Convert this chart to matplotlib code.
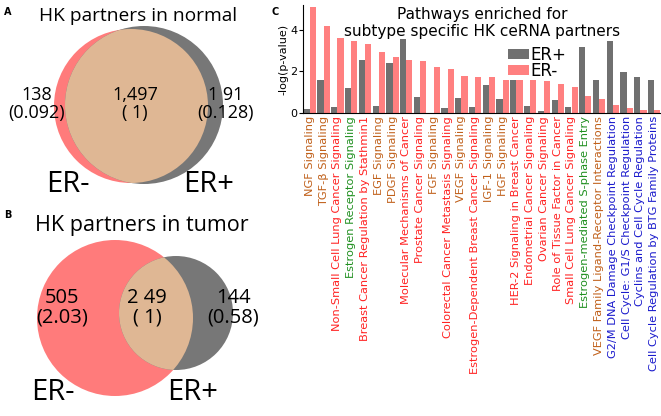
import numpy as np
import matplotlib
matplotlib.use("Agg")
import matplotlib.pyplot as plt
from matplotlib.patches import Circle

# === Venn data ===
normal_labels = ["138\n(0.092)", "1,497\n( 1)", "1 91\n(0.128)"]
tumor_labels = ["505\n(2.03)", "2 49\n( 1)", "144\n(0.58)"]

# === Pathway enrichment ===
pathways = [
    "NGF Signaling", "TGF-β Signaling", "Non-Small Cell Lung Cancer Signaling",
    "Estrogen Receptor Signaling", "Breast Cancer Regulation by Stathmin1",
    "EGF Signaling", "PDGF Signaling", "Molecular Mechanisms of Cancer",
    "Prostate Cancer Signaling", "FGF Signaling",
    "Colorectal Cancer Metastasis Signaling", "VEGF Signaling",
    "Estrogen-Dependent Breast Cancer Signaling", "IGF-1 Signaling",
    "HGF Signaling", "HER-2 Signaling in Breast Cancer",
    "Endometrial Cancer Signaling", "Ovarian Cancer Signaling",
    "Role of Tissue Factor in Cancer", "Small Cell Lung Cancer Signaling",
    "Estrogen-mediated S-phase Entry", "VEGF Family Ligand-Receptor Interactions",
    "G2/M DNA Damage Checkpoint Regulation", "Cell Cycle: G1/S Checkpoint Regulation",
    "Cyclins and Cell Cycle Regulation", "Cell Cycle Regulation by BTG Family Proteins",
]
er_pos = [0.18, 1.59, 0.27, 1.19, 2.55, 0.34, 2.42, 3.58, 0.77, 0.0,
          0.23, 0.74, 0.27, 1.36, 0.67, 1.59, 0.34, 0.11, 0.63, 0.29,
          3.17, 1.59, 3.48, 1.99, 1.75, 1.59]
er_neg = [5.12, 4.19, 3.60, 3.47, 3.31, 2.95, 2.70, 2.55, 2.50, 2.20,
          2.10, 1.78, 1.75, 1.72, 1.59, 1.59, 1.59, 1.53, 1.41, 1.24,
          0.82, 0.67, 0.39, 0.26, 0.14, 0.14]
groups = ["g", "g", "c", "e", "c", "g", "g", "c", "c", "g",
          "c", "g", "c", "g", "g", "c", "c", "c", "c", "c",
          "e", "g", "cc", "cc", "cc", "cc"]
group_colors = {"g": "#c0601a", "c": "#ff2222", "e": "#1f8f1f", "cc": "#1a1acc"}

RED = "#ff7b7b"
GRAY = "#777777"
TAN = "#dfb794"

fig = plt.figure(figsize=(6.61, 4.16), dpi=100)

# === Venn panels (pixel coordinates) ===
axv = fig.add_axes([0, 0, 270 / 661, 1])
axv.set_xlim(0, 270)
axv.set_ylim(416, 0)
axv.axis("off")


def venn(ax, c1, r1, c2, r2, labels, xs, ty, er_y, er_x, fs):
    a = Circle(c1, r1, color=RED, lw=0)
    b = Circle(c2, r2, color=GRAY, lw=0)
    ax.add_patch(a)
    ax.add_patch(b)
    inter = Circle(c2, r2, color=TAN, lw=0)
    ax.add_patch(inter)
    inter.set_clip_path(a)
    for x, s in zip(xs, labels):
        ax.text(x, ty, s, ha="center", va="center", fontsize=fs,
                family="Open Sans", linespacing=1.0)
    ax.text(er_x[0], er_y, "ER-", ha="center", va="center", fontsize=21, family="Open Sans")
    ax.text(er_x[1], er_y, "ER+", ha="center", va="center", fontsize=21, family="Open Sans")


venn(axv, (131, 106), 77, (144, 105), 79, normal_labels,
     [37, 135, 226], 104, 185, (68, 209), 13)
axv.text(138, 16, "HK partners in normal", ha="center", va="center", fontsize=13.8, family="Open Sans")
axv.text(8, 12, "A", fontsize=7, weight="bold", ha="center", va="center")

venn(axv, (115, 318), 78, (176, 313), 57, tumor_labels,
     [62, 147, 233], 308, 392, (53, 193), 14.5)
axv.text(142, 226, "HK partners in tumor", ha="center", va="center", fontsize=15.5, family="Open Sans")
axv.text(8, 215, "B", fontsize=7, weight="bold", ha="center", va="center")

# === Bar chart ===
ax = fig.add_axes([303 / 661, (416 - 113) / 416, 358 / 661, 108 / 416])
x = np.arange(len(pathways))
w = 0.45
ax.bar(x - w / 2, er_pos, w, color="#707070", label="ER+")
ax.bar(x + w / 2, er_neg, w, color="#ff8080", label="ER-")
ax.set_xlim(-0.5, len(pathways) - 0.5)
ax.set_ylim(0, 5.2)
ax.set_yticks([0, 2, 4])
ax.tick_params(axis="y", labelsize=8, length=3, pad=1)
ax.tick_params(axis="x", length=0, pad=2)
ax.set_xticks(x)
ax.set_xticklabels(pathways, rotation=90, fontsize=8.2)
for lab, g in zip(ax.get_xticklabels(), groups):
    lab.set_color(group_colors[g])
ax.set_ylabel("-log(p-value)", fontsize=8, labelpad=1)
for s in ["top", "right"]:
    ax.spines[s].set_visible(False)
ax.text(0.5, 0.985, "Pathways enriched for\nsubtype specific HK ceRNA partners",
        transform=ax.transAxes, ha="center", va="top", fontsize=11, linespacing=1.2)
ax.legend(loc="upper left", bbox_to_anchor=(0.548, 0.70), frameon=False, fontsize=12,
          labelspacing=-0.1, handlelength=1.3, handletextpad=0.1, borderpad=0,
          handleheight=0.6)
fig.text(275 / 661, 1 - 12 / 416, "C", fontsize=7, weight="bold", ha="center", va="center")

fig.savefig("out.png", dpi=100)
